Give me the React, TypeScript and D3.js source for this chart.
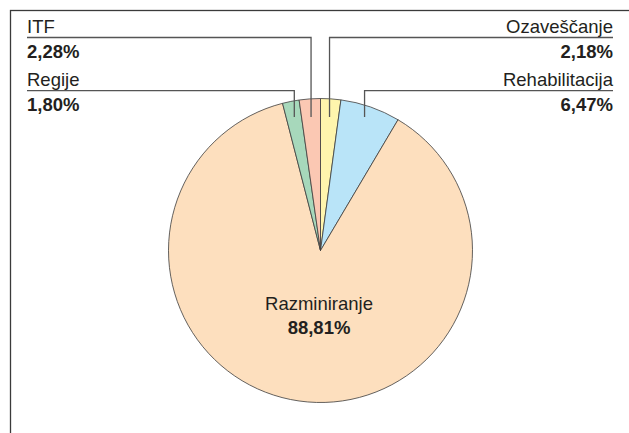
import { useRef, useEffect } from 'react';
import * as d3 from 'd3';

const W = 629;
const H = 433;

// slices clockwise from 12 o'clock
const labels = ['Ozaveščanje', 'Rehabilitacija', 'Razminiranje', 'Regije', 'ITF'];
const values = [2.18, 6.47, 88.81, 1.8, 2.28];
const colors = ['#fff5ad', '#b9e4f8', '#fddfbe', '#a7d8bb', '#fbc8b3'];
// label placement: side and row for the small slices, null = inside
const side = ['right', 'right', null, 'left', 'left'];
const row = [0, 1, null, 1, 0];

const fmt = (v: number) => d3.format('.2f')(v).replace('.', ',') + '%';

export default function App() {
  const svgRef = useRef<SVGSVGElement>(null);

  useEffect(() => {
    const svg = d3.select(svgRef.current);
    svg.selectAll('*').remove();

    const cx = 320.5;
    const cy = 250.5;
    const r = 152;
    const font = '"Liberation Sans", Arial, Helvetica, sans-serif';
    const ink = '#231f20';
    const fs = 18.5;

    // frame (only top and left edges visible)
    svg.append('rect')
      .attr('x', 10.5).attr('y', 10.5)
      .attr('width', W + 40).attr('height', H + 40)
      .attr('fill', 'none').attr('stroke', '#3a3a3a').attr('stroke-width', 1.3);

    const pie = d3.pie<number>().sort(null).value(d => d);
    const arcs = pie(values);
    const arc = d3.arc<d3.PieArcDatum<number>>().innerRadius(0).outerRadius(r);

    const g = svg.append('g').attr('transform', `translate(${cx},${cy})`);
    g.selectAll('path').data(arcs).enter()
      .append('path')
      .attr('d', arc)
      .attr('fill', (d, i) => colors[i])
      .attr('stroke', '#3c3c3c')
      .attr('stroke-width', 0.8)
      .attr('stroke-linejoin', 'round');

    const lineY = [37.5, 90.7];
    const endY = 117;
    const r0 = 134;
    const leftX = 27;
    const rightX = 613;

    arcs.forEach((a, i) => {
      const mid = (a.startAngle + a.endAngle) / 2;
      if (side[i] == null) {
        g.append('text').attr('x', -1.5).attr('y', 59.5)
          .attr('text-anchor', 'middle').attr('font-family', font)
          .attr('font-size', fs).attr('fill', ink).text(labels[i]);
        g.append('text').attr('x', -1.5).attr('y', 83.5)
          .attr('text-anchor', 'middle').attr('font-family', font)
          .attr('font-size', fs).attr('font-weight', 'bold').attr('fill', ink)
          .text(fmt(values[i]));
        return;
      }
      const px = cx + r0 * Math.sin(mid);
      const ly = lineY[row[i] as number];
      const edge = side[i] === 'left' ? leftX : rightX;
      svg.append('path')
        .attr('d', `M${edge},${ly}H${px}V${endY}`)
        .attr('fill', 'none').attr('stroke', '#555').attr('stroke-width', 1.3);
      const anchor = side[i] === 'left' ? 'start' : 'end';
      svg.append('text').attr('x', edge).attr('y', ly - 4.8)
        .attr('text-anchor', anchor).attr('font-family', font)
        .attr('font-size', fs).attr('fill', ink).text(labels[i]);
      svg.append('text').attr('x', edge).attr('y', ly + 20)
        .attr('text-anchor', anchor).attr('font-family', font)
        .attr('font-size', fs).attr('font-weight', 'bold').attr('fill', ink)
        .text(fmt(values[i]));
    });
  }, []);

  return (
    <svg ref={svgRef} width={W} height={H}
      style={{ position: 'absolute', left: 0, top: 0, background: '#fff' }} />
  );
}
